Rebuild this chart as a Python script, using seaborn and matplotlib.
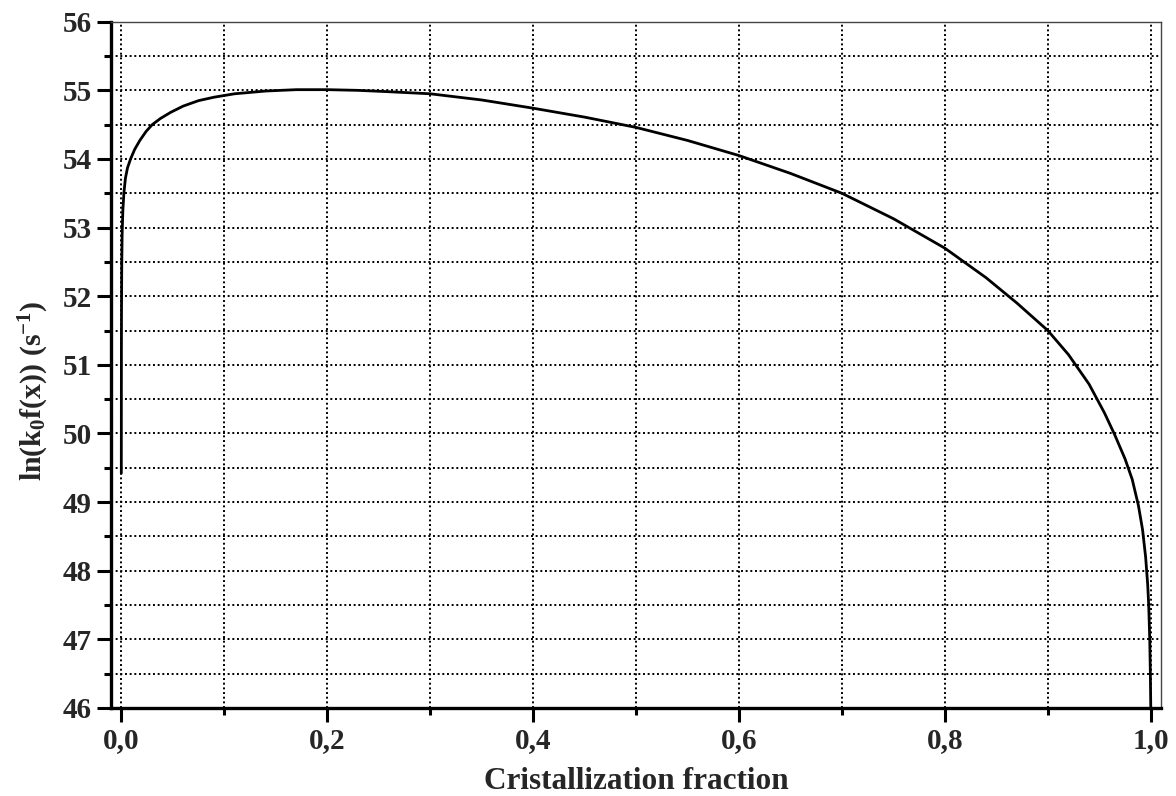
import matplotlib
matplotlib.use("Agg")
import matplotlib.pyplot as plt
from matplotlib.ticker import MultipleLocator, FuncFormatter
import seaborn as sns
import pandas as pd

# Crystallization fraction and ln(k0 f(x)) readings
fraction = [0.0, 0.00005, 0.0001, 0.0002, 0.0004, 0.0008, 0.0015, 0.0025, 0.004,
            0.006, 0.009, 0.013, 0.018, 0.024, 0.030, 0.038, 0.048, 0.06, 0.075,
            0.09, 0.11, 0.14, 0.17, 0.2, 0.23, 0.26, 0.3, 0.35, 0.4, 0.45, 0.5,
            0.55, 0.6, 0.65, 0.7, 0.75, 0.8, 0.84, 0.87, 0.9, 0.92, 0.94, 0.955,
            0.965, 0.975, 0.982, 0.988, 0.992, 0.995, 0.997, 0.998, 0.999,
            0.9996, 1.0]
ln_kf = [49.42, 50.5, 51.2, 51.8, 52.4, 52.9, 53.25, 53.5, 53.72,
         53.87, 54.0, 54.14, 54.27, 54.4, 54.5, 54.59, 54.68, 54.77, 54.85,
         54.9, 54.95, 54.99, 55.01, 55.01, 55.0, 54.98, 54.95, 54.86, 54.74, 54.61, 54.46,
         54.27, 54.05, 53.79, 53.5, 53.13, 52.70, 52.27, 51.9, 51.5, 51.15, 50.72, 50.3,
         49.98, 49.63, 49.33, 48.95, 48.6, 48.2, 47.8, 47.5, 47.0,
         46.5, 46.0]

x_label = "Cristallization fraction"
y_label = r"ln(k$_0$f(x)) (s$^{-1}$)"

df = pd.DataFrame({"x": fraction, "y": ln_kf})

sns.set_theme(style="ticks")
plt.rcParams["font.family"] = ["Liberation Serif", "DejaVu Serif"]
plt.rcParams["font.weight"] = "bold"
plt.rcParams["mathtext.fontset"] = "custom"
plt.rcParams["mathtext.rm"] = "Liberation Serif:bold"
plt.rcParams["mathtext.it"] = "Liberation Serif:bold"
plt.rcParams["mathtext.bf"] = "Liberation Serif:bold"
plt.rcParams["mathtext.default"] = "rm"

fig = plt.figure(figsize=(11.76, 7.96), dpi=100)
ax = fig.add_axes([0.0944, 0.1106, 0.8929, 0.8621])

sns.lineplot(data=df, x="x", y="y", sort=False, estimator=None,
             color="black", linewidth=2.0, ax=ax)

ax.set_xlim(-0.01, 1.01)
ax.set_ylim(46, 56)

ax.xaxis.set_major_locator(MultipleLocator(0.2))
ax.xaxis.set_minor_locator(MultipleLocator(0.1))
ax.yaxis.set_major_locator(MultipleLocator(1))
ax.yaxis.set_minor_locator(MultipleLocator(0.5))
ax.xaxis.set_major_formatter(FuncFormatter(lambda v, p: f"{v:.1f}".replace(".", ",")))
ax.yaxis.set_major_formatter(FuncFormatter(lambda v, p: f"{v:.0f}"))

grid_style = dict(color="black", linestyle=(0, (1, 1.4)), linewidth=1.4)
ax.grid(True, which="both", axis="both", **grid_style)
ax.set_axisbelow(True)

for side in ("left", "bottom"):
    ax.spines[side].set_linewidth(2.4)
    ax.spines[side].set_color("black")
for side in ("top", "right"):
    ax.spines[side].set_visible(True)
    ax.spines[side].set_linewidth(1.0)
    ax.spines[side].set_color("#444444")

ax.tick_params(which="major", direction="out", length=10, width=2.2, color="black",
               labelsize=21, pad=4)
ax.tick_params(which="minor", direction="out", length=5, width=2.2, color="black")
for lbl in ax.get_xticklabels() + ax.get_yticklabels():
    lbl.set_fontweight("bold")

ax.set_xlabel(x_label, fontsize=22.5, fontweight="bold", labelpad=9)
ax.set_ylabel(y_label, fontsize=21.5, fontweight="bold")
ax.yaxis.set_label_coords(-0.057, 0.463)

fig.savefig("out.png", dpi=100)
